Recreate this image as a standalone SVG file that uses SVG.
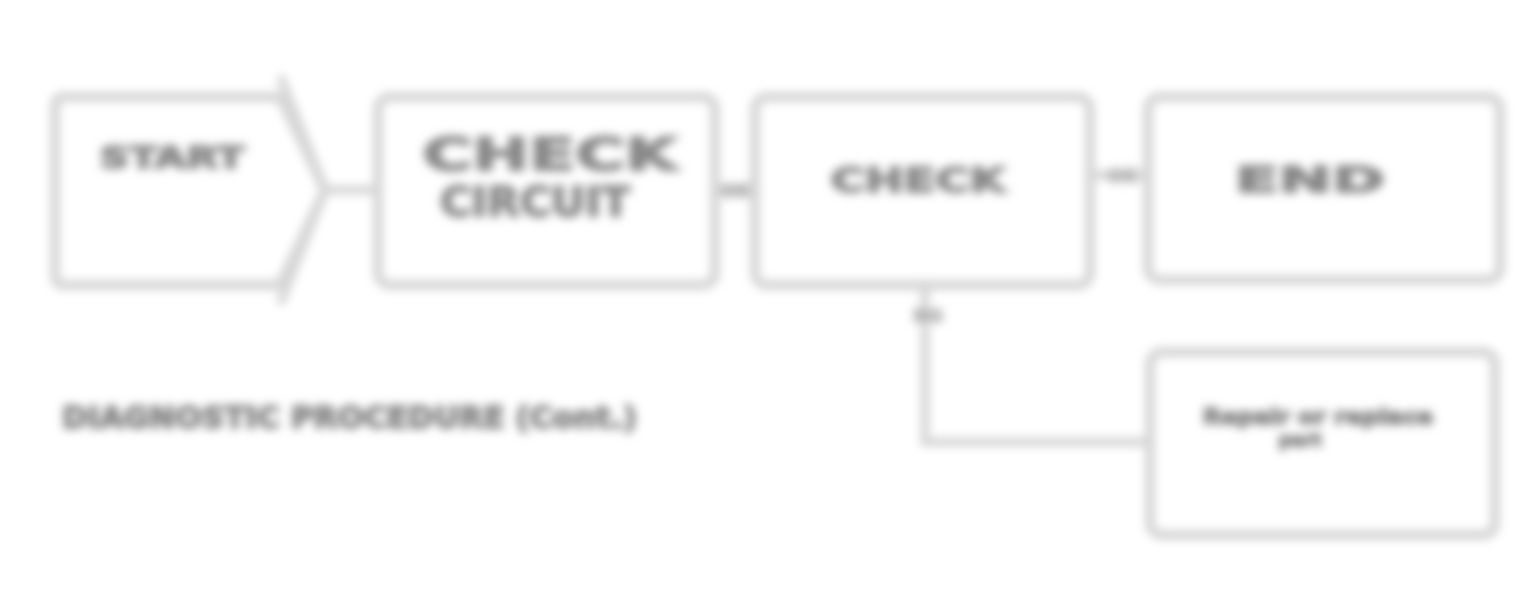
<svg xmlns="http://www.w3.org/2000/svg" width="1533" height="609" viewBox="0 0 1533 609">
<defs>
<filter id="soft" x="-5%" y="-5%" width="110%" height="110%"><feGaussianBlur stdDeviation="5"/></filter>
<style>
.box{fill:none;stroke:#d6d6d6;stroke-width:10;stroke-linejoin:round}
.ln{fill:none;stroke:#d6d6d6;stroke-width:9}
.t{font-family:"DejaVu Sans","Liberation Sans",sans-serif;font-weight:bold;fill:#888888;stroke:#888888;stroke-width:2}
.lbl{font-family:"DejaVu Sans","Liberation Sans",sans-serif;font-weight:bold;fill:#b0b0b0;stroke:#b0b0b0;stroke-width:1.5;font-size:18px}
</style>
</defs>
<rect width="1533" height="609" fill="#ffffff"/>
<g filter="url(#soft)">
<g id="connectors">
<line class="ln" x1="325" y1="190" x2="378" y2="190"/>
<line class="ln" x1="715" y1="190" x2="755" y2="190"/>
<line class="ln" x1="1090" y1="175" x2="1148" y2="175"/>
<polyline class="ln" points="925,285 925,442 1150,442"/>
<text class="lbl" x="735" y="197" text-anchor="middle">OK</text>
<text class="lbl" x="1122" y="182" text-anchor="middle">OK</text>
<text class="lbl" x="928" y="322" text-anchor="middle">NG</text>
</g>
<g id="node1">
<path class="box" d="M64,97 H280 L325,190 L280,285 H64 Q55,285 55,276 V106 Q55,97 64,97 Z"/>
<path class="ln" d="M280,76 L325,190 L280,304"/>
<text class="t" x="172" y="168" font-size="30" textLength="145" lengthAdjust="spacingAndGlyphs" text-anchor="middle">START</text>
</g>
<g id="node2">
<rect class="box" x="378" y="97" width="337" height="188" rx="12"/>
<text class="t" x="550" y="170" font-size="44" textLength="255" lengthAdjust="spacingAndGlyphs" text-anchor="middle">CHECK</text>
<text class="t" x="535" y="216" font-size="40" textLength="190" lengthAdjust="spacingAndGlyphs" text-anchor="middle">CIRCUIT</text>
</g>
<g id="node3">
<rect class="box" x="755" y="97" width="335" height="188" rx="12"/>
<text class="t" x="918" y="192" font-size="34" textLength="175" lengthAdjust="spacingAndGlyphs" text-anchor="middle">CHECK</text>
</g>
<g id="node4">
<rect class="box" x="1148" y="97" width="352" height="183" rx="12"/>
<text class="t" x="1310" y="192" font-size="36" textLength="150" lengthAdjust="spacingAndGlyphs" text-anchor="middle">END</text>
</g>
<g id="node5">
<rect class="box" x="1150" y="352" width="345" height="183" rx="12"/>
<text class="t" x="1318" y="424" font-size="22" textLength="230" lengthAdjust="spacingAndGlyphs" text-anchor="middle">Repair or replace</text>
<text class="t" x="1300" y="446" font-size="18" text-anchor="middle">part</text>
</g>
<g id="caption">
<text class="t" x="62" y="428" font-size="30" textLength="575" lengthAdjust="spacingAndGlyphs">DIAGNOSTIC PROCEDURE (Cont.)</text>
</g>
</g>
</svg>
